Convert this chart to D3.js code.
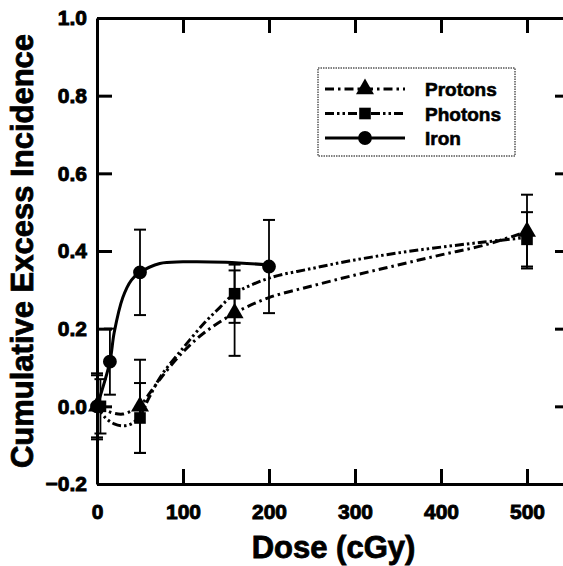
<!DOCTYPE html>
<html>
<head>
<meta charset="utf-8">
<script src="https://cdn.jsdelivr.net/npm/d3@7"></script>
<style>
html,body{margin:0;padding:0;background:#fff;overflow:hidden;}
text{font-family:"Liberation Sans",Arial,sans-serif;font-weight:bold;fill:#000;}
</style>
</head>
<body>
<svg id="chart" width="563" height="566"></svg>
<script>
// ---- data ----
const xTicks = [0, 100, 200, 300, 400, 500];
const yTicks = [-0.2, 0.0, 0.2, 0.4, 0.6, 0.8, 1.0];
const seriesNames = ["Protons", "Photons", "Iron"];

// measured points: dose, value, error
const protonsDose = [0, 50, 160, 500];
const protonsValue = [0.0, 0.0, 0.24, 0.45];
const protonsErr = [0.085, 0.12, 0.11, 0.095];

const photonsDose = [4, 50, 160, 500];
const photonsValue = [0.0, -0.03, 0.29, 0.43];
const photonsErr = [0.07, 0.09, 0.075, 0.07];

const ironDose = [0, 15, 50, 200];
const ironValue = [0.0, 0.115, 0.345, 0.36];
const ironErr = [0.08, 0.085, 0.11, 0.12];

// fitted curves
const protonsCurveDose = [0, 10, 20, 30, 40, 50, 60, 75, 100, 125, 160, 200, 250, 300, 350, 400, 450, 500];
const protonsCurveValue = [0, -0.01, -0.018, -0.02, -0.012, 0.0, 0.03, 0.075, 0.14, 0.19, 0.24, 0.28, 0.31, 0.338, 0.364, 0.39, 0.415, 0.45];
const photonsCurveDose = [0, 10, 20, 30, 40, 50, 60, 75, 100, 125, 143, 160, 200, 250, 300, 350, 400, 450, 500];
const photonsCurveValue = [0, -0.03, -0.045, -0.05, -0.045, -0.025, 0.02, 0.08, 0.15, 0.215, 0.255, 0.29, 0.33, 0.355, 0.377, 0.395, 0.41, 0.423, 0.435];
const ironCurveDose = [0, 15, 20, 30, 40, 50, 73, 100, 150, 200];
const ironCurveValue = [0, 0.115, 0.19, 0.28, 0.325, 0.345, 0.368, 0.372, 0.371, 0.364];

// ---- layout ----
const svg = d3.select("#chart");
const L = 97, R = 570, T = 18, B = 484;
const x = d3.scaleLinear().domain([0, 550]).range([L, R]);
const y = d3.scaleLinear().domain([-0.2, 1.0]).range([B, T]);

const g = svg.append("g");

const axB = d3.axisBottom(x).tickValues(xTicks).tickSizeInner(-15).tickSizeOuter(0).tickPadding(20).tickFormat(d3.format("d"));
const axT = d3.axisTop(x).tickValues(xTicks.slice(1)).tickSizeInner(-15).tickSizeOuter(0).tickFormat("");
const axL = d3.axisLeft(y).tickValues(yTicks).tickSizeInner(-15).tickSizeOuter(0).tickPadding(10).tickFormat(d3.format(".1f"));
const axR = d3.axisRight(y).tickValues(yTicks.slice(1, -1)).tickSizeInner(-15).tickSizeOuter(0).tickFormat("");

function styleAxis(sel){
  sel.select(".domain").attr("stroke", "#000").attr("stroke-width", 3);
  sel.selectAll(".tick line").attr("stroke", "#000").attr("stroke-width", 3);
  sel.selectAll(".tick text").style("font-size", "21px").attr("fill", "#000").attr("stroke", "#000").attr("stroke-width", 0.9);
}
g.append("g").attr("transform", `translate(0,${B})`).call(axB).call(styleAxis);
g.append("g").attr("transform", `translate(0,${T})`).call(axT).call(styleAxis);
g.append("g").attr("transform", `translate(${L},0)`).call(axL).call(styleAxis);
g.append("g").attr("transform", `translate(${R},0)`).call(axR).call(styleAxis);
g.selectAll(".tick text").attr("font-family", null);

svg.append("text").attr("x", (L + R) / 2).attr("y", 558).attr("text-anchor", "middle")
  .style("font-size", "31px").attr("stroke", "#000").attr("stroke-width", 0.8).text("Dose (cGy)");
svg.append("text").attr("transform", `translate(33,${(T + B) / 2}) rotate(-90)`).attr("text-anchor", "middle")
  .style("font-size", "31px").attr("stroke", "#000").attr("stroke-width", 0.8).text("Cumulative Excess Incidence");

const dashes = { "Protons": "9,4,2.5,4", "Photons": "9,3,2.5,3,2.5,3", "Iron": null };

const series = [
  { name: "Protons", dose: protonsDose, val: protonsValue, err: protonsErr, cd: protonsCurveDose, cv: protonsCurveValue, sym: d3.symbolTriangle, size: 140 },
  { name: "Photons", dose: photonsDose, val: photonsValue, err: photonsErr, cd: photonsCurveDose, cv: photonsCurveValue, sym: d3.symbolSquare, size: 135 },
  { name: "Iron", dose: ironDose, val: ironValue, err: ironErr, cd: ironCurveDose, cv: ironCurveValue, sym: d3.symbolCircle, size: 150 }
];

const line = d3.line().x(d => x(d[0])).y(d => y(d[1])).curve(d3.curveCatmullRom.alpha(0.5));

series.forEach(s => {
  const pts = s.cd.map((d, i) => [d, s.cv[i]]);
  g.append("path").datum(pts).attr("d", line).attr("fill", "none").attr("stroke", "#000")
    .attr("stroke-width", 3).attr("stroke-dasharray", dashes[s.name]);
});

series.forEach(s => {
  const eg = g.append("g");
  s.dose.forEach((d, i) => {
    const cx = x(d), v = s.val[i], e = s.err[i];
    eg.append("line").attr("x1", cx).attr("x2", cx).attr("y1", y(v + e)).attr("y2", y(v - e)).attr("stroke", "#000").attr("stroke-width", 1.8);
    [v + e, v - e].forEach(t => eg.append("line").attr("x1", cx - 6).attr("x2", cx + 6).attr("y1", y(t)).attr("y2", y(t)).attr("stroke", "#000").attr("stroke-width", 2));
    eg.append("path").attr("d", d3.symbol().type(s.sym).size(s.size)()).attr("transform", `translate(${cx},${y(v)})`).attr("fill", "#000");
  });
});

// legend
const lg = svg.append("g");
lg.append("rect").attr("x", 318).attr("y", 68).attr("width", 197).attr("height", 88).attr("fill", "#fff")
  .attr("stroke", "#000").attr("stroke-width", 1).attr("stroke-dasharray", "1.5,1");
series.forEach((s, i) => {
  const ly = 89 + i * 24.5;
  lg.append("line").attr("x1", 325).attr("x2", 405).attr("y1", ly).attr("y2", ly).attr("stroke", "#000")
    .attr("stroke-width", 3).attr("stroke-dasharray", dashes[s.name]);
  lg.append("path").attr("d", d3.symbol().type(s.sym).size(s.size)()).attr("transform", `translate(365,${ly})`).attr("fill", "#000");
  lg.append("text").attr("x", 425).attr("y", ly + 7).style("font-size", "19px").attr("stroke", "#000").attr("stroke-width", 0.6).text(s.name);
});
</script>
</body>
</html>
